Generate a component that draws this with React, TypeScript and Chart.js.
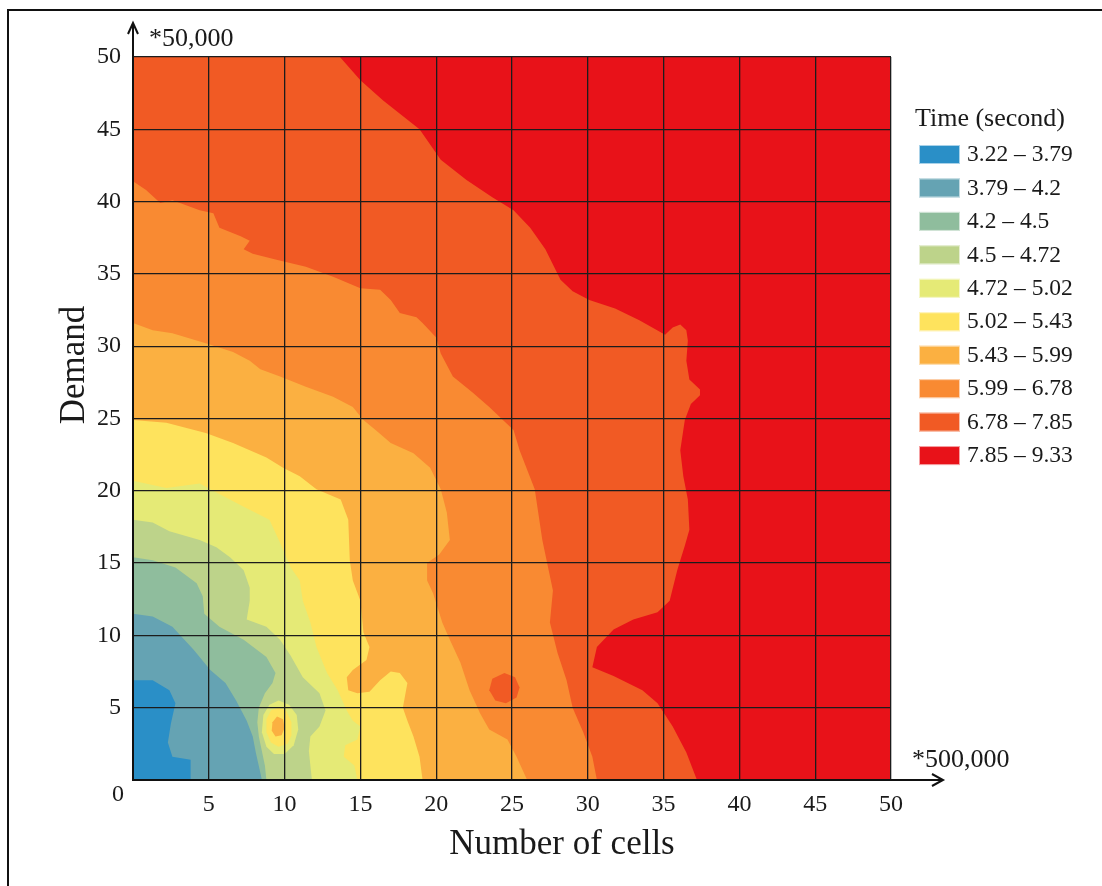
import React, { useEffect, useRef } from "react";
import { Chart, registerables } from "chart.js";

Chart.register(...registerables);

const FONT = "'Liberation Serif', 'Times New Roman', serif";
const TEXT = "#1a1a1a";

const legendTitle = "Time (second)";
const bandLabels = [
  "3.22 – 3.79",
  "3.79 – 4.2",
  "4.2 – 4.5",
  "4.5 – 4.72",
  "4.72 – 5.02",
  "5.02 – 5.43",
  "5.43 – 5.99",
  "5.99 – 6.78",
  "6.78 – 7.85",
  "7.85 – 9.33",
];
const bandColors = [
  "#2a8fc7",
  "#65a3b3",
  "#8fbd9d",
  "#bdd38a",
  "#e5ea76",
  "#fee35d",
  "#fbb041",
  "#f98a32",
  "#f15a24",
  "#e81219",
];

const tickValues = [0, 5, 10, 15, 20, 25, 30, 35, 40, 45, 50];
const xAxisTitle = "Number of cells";
const yAxisTitle = "Demand";
const xUnitLabel = "*500,000";
const yUnitLabel = "*50,000";

// Contour regions (Number of cells, Demand): each polygon is the area whose time is at or above the band's lower limit.
const from322: number[][] = [[0, 0], [50, 0], [50, 50], [0, 50]];
const from379: number[][] = [[0, 6.9], [1.3, 6.9], [2.4, 6.2], [2.8, 5.3], [2.5, 3.9], [2.3, 2.6], [2.6, 1.6], [3.8, 1.4], [3.8, 0], [50, 0], [50, 50], [0, 50]];
const from420: number[][] = [[0, 11.5], [1.3, 11.3], [2.6, 10.6], [4.0, 9.0], [5.1, 7.6], [6.1, 6.7], [6.8, 5.5], [7.5, 4.1], [7.9, 3.0], [8.1, 1.9], [8.4, 0.5], [8.5, 0], [50, 0], [50, 50], [0, 50]];
const from450: number[][] = [[0, 15.4], [1.3, 15.2], [2.8, 14.7], [4.2, 13.6], [4.6, 12.7], [4.7, 11.5], [5.7, 10.6], [7.3, 9.7], [8.8, 8.5], [9.4, 7.4], [9.2, 6.7], [8.7, 6.0], [8.3, 5.0], [8.2, 4.0], [8.3, 3.0], [8.5, 2.0], [8.7, 1.0], [8.8, 0], [50, 0], [50, 50], [0, 50]];
const from472: number[][] = [[0, 18.0], [1.3, 17.8], [2.4, 17.2], [4.4, 16.6], [5.5, 16.1], [6.4, 15.4], [7.3, 14.5], [7.7, 13.3], [7.7, 12.4], [7.5, 11.1], [8.8, 10.6], [9.7, 9.7], [10.4, 8.6], [11.2, 7.1], [12.3, 6.0], [12.7, 4.8], [12.3, 3.7], [11.7, 3.0], [11.6, 2.0], [11.8, 0], [50, 0], [50, 50], [0, 50]];
const from502: number[][] = [[0, 20.7], [2.2, 20.2], [4.4, 20.5], [5.1, 20.1], [7.3, 18.9], [9.0, 18.0], [9.7, 16.4], [10.4, 14.7], [11.0, 13.8], [11.2, 12.4], [11.7, 10.9], [12.1, 9.2], [12.8, 7.4], [13.5, 6.2], [14.1, 4.8], [14.5, 4.1], [15.0, 3.7], [14.8, 2.8], [14.0, 2.4], [13.9, 1.6], [14.6, 1.0], [14.8, 0], [50, 0], [50, 50], [0, 50]];
const from543: number[][] = [[0, 24.9], [2.2, 24.7], [4.8, 24.0], [6.6, 23.3], [8.8, 22.3], [9.9, 21.6], [11.0, 21.0], [12.1, 20.1], [13.7, 19.4], [14.2, 18.0], [14.3, 15.2], [14.5, 13.8], [15.0, 12.4], [15.2, 10.2], [15.6, 9.2], [15.4, 8.3], [14.5, 7.6], [14.1, 7.1], [14.2, 6.2], [14.8, 6.0], [15.6, 6.1], [16.3, 6.9], [17.0, 7.5], [17.6, 7.4], [18.1, 6.7], [17.8, 5.0], [18.1, 4.1], [18.5, 3.0], [18.9, 1.6], [19.1, 0], [50, 0], [50, 50], [0, 50]];
const from599: number[][] = [[0, 31.6], [1.3, 31.1], [2.6, 30.9], [4.8, 30.2], [6.6, 29.6], [7.7, 29.0], [8.4, 28.4], [9.7, 27.9], [11.4, 27.2], [13.2, 26.5], [14.5, 25.8], [15.2, 24.9], [16.0, 24.2], [17.0, 23.3], [18.5, 22.6], [19.6, 21.6], [20.3, 20.1], [20.7, 18.5], [20.9, 16.6], [20.2, 15.6], [19.4, 15.0], [19.4, 13.8], [19.8, 12.9], [20.4, 10.9], [20.9, 9.7], [21.6, 8.1], [22.2, 6.2], [22.9, 4.6], [23.5, 3.5], [24.7, 2.8], [25.3, 1.6], [26.0, 0], [50, 0], [50, 50], [0, 50]];
const from678: number[][] = [[0, 41.4], [0.86, 40.8], [1.8, 39.9], [2.6, 40.1], [4.4, 39.4], [5.3, 39.2], [5.7, 38.2], [7.1, 37.6], [7.7, 37.3], [7.3, 36.7], [7.9, 36.4], [9.4, 36.0], [11.4, 35.5], [13.2, 34.8], [15.0, 34.0], [16.3, 33.9], [17.0, 33.2], [17.6, 32.3], [18.7, 32.0], [19.1, 31.6], [20.0, 30.6], [20.3, 29.5], [21.1, 27.9], [22.4, 26.8], [23.5, 25.8], [24.4, 24.9], [25.1, 24.2], [25.5, 22.8], [26.5, 20.1], [27.0, 16.6], [27.7, 13.1], [27.5, 10.9], [28.0, 8.8], [28.6, 6.9], [29.0, 5.0], [29.7, 3.3], [30.3, 1.6], [30.6, 0], [50, 0], [50, 50], [0, 50]];
const from785: number[][] = [[13.65, 50], [15.0, 48.4], [16.5, 47.0], [18.9, 45.0], [20.3, 42.9], [22.0, 41.5], [23.7, 40.3], [25.1, 39.4], [26.2, 38.2], [27.2, 36.7], [28.2, 34.6], [29.0, 33.8], [30.1, 33.2], [31.8, 32.6], [33.4, 31.8], [35.1, 30.8], [35.6, 31.3], [36.1, 31.5], [36.5, 31.1], [36.6, 30.4], [36.5, 29.0], [36.7, 27.7], [37.4, 27.0], [37.4, 26.6], [36.8, 26.0], [36.4, 24.9], [36.1, 22.8], [36.3, 21.0], [36.6, 19.4], [36.7, 17.3], [36.4, 16.2], [36.1, 15.2], [35.9, 14.5], [35.4, 12.4], [34.6, 11.6], [33.0, 11.1], [31.7, 10.4], [30.6, 9.2], [30.3, 7.8], [31.7, 7.2], [33.6, 6.2], [34.6, 5.3], [35.6, 3.7], [36.5, 1.9], [37.2, 0], [50, 0], [50, 50]];

// Local islands
const island472: number[][] = [[9.6, 5.5], [10.3, 5.2], [10.8, 4.5], [10.9, 3.5], [10.6, 2.4], [10.0, 1.8], [9.3, 1.8], [8.8, 2.3], [8.5, 3.3], [8.6, 4.5], [9.0, 5.2]];
const island502: number[][] = [[9.6, 5.0], [10.1, 4.8], [10.45, 4.0], [10.45, 3.1], [10.2, 2.5], [9.6, 2.3], [9.1, 2.6], [8.8, 3.3], [8.8, 4.2], [9.1, 4.8]];
const island543: number[][] = [[9.5, 4.4], [9.9, 4.2], [10.0, 3.6], [9.8, 3.1], [9.4, 3.0], [9.15, 3.4], [9.2, 4.0]];
const island678: number[][] = [[24.5, 7.4], [25.2, 7.1], [25.5, 6.4], [25.3, 5.7], [24.6, 5.3], [23.9, 5.5], [23.5, 6.2], [23.7, 7.0]];

const regions: { pts: number[][]; band: number }[] = [
  { pts: from322, band: 0 },
  { pts: from379, band: 1 },
  { pts: from420, band: 2 },
  { pts: from450, band: 3 },
  { pts: from472, band: 4 },
  { pts: from502, band: 5 },
  { pts: from543, band: 6 },
  { pts: from599, band: 7 },
  { pts: from678, band: 8 },
  { pts: from785, band: 9 },
  { pts: island472, band: 4 },
  { pts: island502, band: 5 },
  { pts: island543, band: 6 },
  { pts: island678, band: 8 },
];

const contourPlugin = {
  id: "contourFill",
  beforeDraw(chart: any) {
    const { ctx, chartArea: a } = chart;
    ctx.save();
    ctx.beginPath();
    ctx.rect(a.left, a.top, a.right - a.left, a.bottom - a.top);
    ctx.clip();
    chart.data.datasets.forEach((ds: any, i: number) => {
      const meta = chart.getDatasetMeta(i);
      const pts = meta.data;
      if (!pts || !pts.length) return;
      ctx.beginPath();
      pts.forEach((p: any, j: number) => (j ? ctx.lineTo(p.x, p.y) : ctx.moveTo(p.x, p.y)));
      ctx.closePath();
      ctx.fillStyle = ds.backgroundColor;
      ctx.fill();
    });
    ctx.restore();
  },
  afterDraw(chart: any) {
    const { ctx, chartArea: a, scales } = chart;
    const x0 = scales.x.getPixelForValue(0);
    const y0 = scales.y.getPixelForValue(0);
    ctx.save();
    ctx.strokeStyle = "#111";
    ctx.lineWidth = 2;
    ctx.lineCap = "butt";
    // y axis with arrow
    ctx.beginPath();
    ctx.moveTo(x0, y0 + 1);
    ctx.lineTo(x0, a.top - 33);
    ctx.stroke();
    ctx.beginPath();
    ctx.moveTo(x0 - 5, a.top - 23);
    ctx.lineTo(x0, a.top - 34);
    ctx.lineTo(x0 + 5, a.top - 23);
    ctx.stroke();
    // x axis with arrow
    ctx.beginPath();
    ctx.moveTo(x0 - 1, y0);
    ctx.lineTo(a.right + 51, y0);
    ctx.stroke();
    ctx.beginPath();
    ctx.moveTo(a.right + 41, y0 - 6);
    ctx.lineTo(a.right + 52, y0);
    ctx.lineTo(a.right + 41, y0 + 6);
    ctx.stroke();
    // frame
    ctx.beginPath();
    ctx.moveTo(8, chart.height + 2);
    ctx.lineTo(8, 10);
    ctx.lineTo(chart.width + 2, 10);
    ctx.stroke();

    ctx.fillStyle = TEXT;
    ctx.font = `26px ${FONT}`;
    ctx.textBaseline = "alphabetic";
    ctx.textAlign = "left";
    ctx.fillText(yUnitLabel, x0 + 16, a.top - 11);
    ctx.fillText(xUnitLabel, a.right + 21, y0 - 13);
    ctx.font = `24px ${FONT}`;
    ctx.textAlign = "center";
    ctx.textBaseline = "middle";
    ctx.fillText("0", x0 - 15, y0 + 15);

    // axis titles
    ctx.font = `35px ${FONT}`;
    ctx.fillText(xAxisTitle, a.left + 429, 845);
    ctx.save();
    ctx.translate(75, a.top + 308);
    ctx.rotate(-Math.PI / 2);
    ctx.fillText(yAxisTitle, 0, 0);
    ctx.restore();

    // legend
    const lx = a.right + 28;
    ctx.textAlign = "left";
    ctx.font = `26px ${FONT}`;
    ctx.fillText(legendTitle, a.right + 24, 119);
    ctx.font = `23.5px ${FONT}`;
    bandLabels.forEach((lab, i) => {
      const top = 145 + i * 33.45;
      ctx.fillStyle = bandColors[i];
      ctx.fillRect(lx, top, 41, 19);
      ctx.strokeStyle = "rgba(255,255,255,0.6)";
      ctx.lineWidth = 1;
      ctx.strokeRect(lx + 0.5, top + 0.5, 40, 18);
      ctx.fillStyle = TEXT;
      ctx.fillText(lab, lx + 48, top + 10);
    });
    ctx.restore();
  },
};

export default function App() {
  const ref = useRef<HTMLCanvasElement>(null);
  useEffect(() => {
    if (!ref.current) return;
    const chart = new Chart(ref.current, {
      type: "scatter",
      data: {
        datasets: regions.map((r, i) => ({
          label: `region ${i}`,
          data: r.pts.map(([x, y]) => ({ x, y })),
          backgroundColor: bandColors[r.band],
          borderColor: bandColors[r.band],
          pointRadius: 0,
          pointHoverRadius: 0,
          showLine: false,
        })),
      },
      options: {
        responsive: false,
        maintainAspectRatio: false,
        animation: false,
        events: [],
        layout: { padding: { left: 55, top: 57, right: 211, bottom: 21 } },
        plugins: { legend: { display: false }, tooltip: { enabled: false } },
        scales: {
          x: {
            type: "linear",
            min: 0,
            max: 50,
            afterBuildTicks: (s: any) => {
              s.ticks = tickValues.map((v) => ({ value: v }));
            },
            ticks: {
              callback: (v: any) => (v === 0 ? "" : String(v)),
              font: { family: FONT, size: 24 },
              color: TEXT,
              padding: 10,
              maxRotation: 0,
              autoSkip: false,
            },
            grid: { color: "#1c1c1c", lineWidth: 1.3, drawTicks: false },
            border: { display: false },
            title: { display: false, text: xAxisTitle },
            afterFit: (s: any) => {
              s.height = 85;
            },
          },
          y: {
            type: "linear",
            min: 0,
            max: 50,
            afterBuildTicks: (s: any) => {
              s.ticks = tickValues.map((v) => ({ value: v }));
            },
            ticks: {
              callback: (v: any) => (v === 0 ? "" : String(v)),
              font: { family: FONT, size: 24 },
              color: TEXT,
              padding: 12,
              autoSkip: false,
            },
            grid: { color: "#1c1c1c", lineWidth: 1.3, drawTicks: false },
            border: { display: false },
            title: { display: false, text: yAxisTitle },
            afterFit: (s: any) => {
              s.width = 78;
            },
          },
        },
      },
      plugins: [contourPlugin],
    } as any);
    return () => chart.destroy();
  }, []);
  return (
    <div style={{ position: "fixed", left: 0, top: 0, width: 1102, height: 886, background: "#fff" }}>
      <canvas ref={ref} width={1102} height={886} style={{ display: "block" }} />
    </div>
  );
}
